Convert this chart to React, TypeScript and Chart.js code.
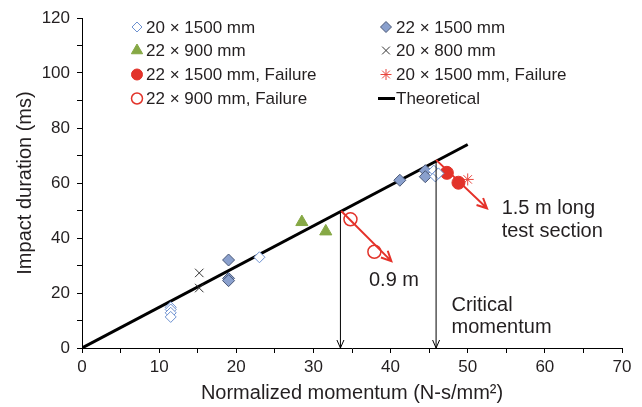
import React, { useEffect, useRef } from 'react';
import { Chart, registerables } from 'chart.js';
import { drawPoint } from 'chart.js/helpers';

Chart.register(...registerables);

const FONT = '"Liberation Sans", Arial, Helvetica, sans-serif';
const INK = '#231f20';

// Normalized momentum (N-s/mm²) and impact duration (ms) per specimen group
const s20x1500X = [11.5, 11.5, 11.5, 11.5, 23.0, 45.6, 45.8, 46.2];
const s20x1500Y = [14.8, 14.0, 12.8, 11.3, 33.0, 64.5, 62.4, 63.5];

const s22x1500X = [19.0, 19.0, 19.0, 41.2, 44.5, 44.5];
const s22x1500Y = [32.0, 25.3, 24.5, 61.0, 64.5, 62.3];

const s22x900X = [28.5, 31.6];
const s22x900Y = [45.8, 42.4];

const s20x800X = [15.2, 15.2];
const s20x800Y = [27.3, 21.8];

const f22x1500X = [47.3, 48.8];
const f22x1500Y = [63.7, 60.1];

const f20x1500X = [50.0];
const f20x1500Y = [61.3];

const f22x900X = [34.8, 37.9];
const f22x900Y = [46.8, 35.0];

// Theoretical relation (straight line through the origin)
const theoryX = [0, 50];
const theoryY = [0, 74];

// Critical momentum drop lines (from theoretical line to the axis)
const criticalX = [33.5, 45.9];
const criticalTopY = [49.6, 67.9];

// Failure trend arrows
const failFromX = [33.6, 45.9];
const failFromY = [49.8, 68.4];
const failToX = [40.1, 52.5];
const failToY = [31.6, 50.8];

// Notes placed in data coordinates (left edge, vertical centre)
const noteText = ['0.9 m', '1.5 m long', 'test section', 'Critical', 'momentum'];
const noteX = [37.2, 54.4, 54.4, 47.9, 47.9];
const noteY = [24.7, 50.9, 42.2, 15.6, 7.3];

// Axis ticks
const xTickMin = 0, xTickMax = 70, xTickStep = 5, xLabelEvery = 10;
const yTickMin = 0, yTickMax = 120, yTickStep = 10, yLabelEvery = 20;

const pts = (xs: number[], ys: number[]) => xs.map((x, i) => ({ x, y: ys[i] }));

const annotations = {
  id: 'annotations',
  afterDatasetsDraw(chart: any) {
    const { ctx, scales } = chart;
    const xs = scales.x, ys = scales.y;
    ctx.save();
    // black drop lines with small open arrowheads
    ctx.strokeStyle = '#000';
    ctx.lineWidth = 1;
    criticalX.forEach((v, i) => {
      const px = xs.getPixelForValue(v);
      const top = ys.getPixelForValue(criticalTopY[i]);
      const bot = ys.getPixelForValue(0);
      ctx.beginPath();
      ctx.moveTo(px, top);
      ctx.lineTo(px, bot);
      ctx.moveTo(px - 3.5, bot - 8);
      ctx.lineTo(px, bot);
      ctx.lineTo(px + 3.5, bot - 8);
      ctx.stroke();
    });
    // red failure arrows
    ctx.strokeStyle = '#e5322a';
    ctx.lineWidth = 2;
    failFromX.forEach((v, i) => {
      const x0 = xs.getPixelForValue(v), y0 = ys.getPixelForValue(failFromY[i]);
      const x1 = xs.getPixelForValue(failToX[i]), y1 = ys.getPixelForValue(failToY[i]);
      const a = Math.atan2(y1 - y0, x1 - x0);
      const h = 11, w = 0.45;
      ctx.beginPath();
      ctx.moveTo(x0, y0);
      ctx.lineTo(x1, y1);
      ctx.moveTo(x1 - h * Math.cos(a - w), y1 - h * Math.sin(a - w));
      ctx.lineTo(x1, y1);
      ctx.lineTo(x1 - h * Math.cos(a + w), y1 - h * Math.sin(a + w));
      ctx.stroke();
    });
    // notes
    ctx.fillStyle = INK;
    ctx.font = `20px ${FONT}`;
    ctx.textAlign = 'left';
    ctx.textBaseline = 'middle';
    noteText.forEach((t, i) => {
      ctx.fillText(t, xs.getPixelForValue(noteX[i]), ys.getPixelForValue(noteY[i]));
    });
    ctx.restore();
  },
};

const boxLegend = {
  id: 'boxLegend',
  afterDraw(chart: any) {
    const { ctx } = chart;
    const sets = chart.data.datasets;
    const colMarker = [137, 386];
    const colText = [146, 396];
    const rowY = [27, 50.5, 74.5, 98.5];
    ctx.save();
    ctx.font = `17px ${FONT}`;
    ctx.textBaseline = 'middle';
    ctx.textAlign = 'left';
    sets.forEach((ds: any, i: number) => {
      const col = i % 2;
      const row = Math.floor(i / 2);
      const y = rowY[row];
      const mx = colMarker[col];
      if (ds.showLine) {
        ctx.strokeStyle = ds.borderColor;
        ctx.lineWidth = 3;
        ctx.beginPath();
        ctx.moveTo(mx - 8, y);
        ctx.lineTo(mx + 9, y);
        ctx.stroke();
      } else {
        ctx.fillStyle = ds.backgroundColor;
        ctx.strokeStyle = ds.borderColor;
        ctx.lineWidth = ds.borderWidth;
        drawPoint(ctx, {
          pointStyle: ds.pointStyle,
          radius: ds.legendRadius,
          rotation: 0,
          borderWidth: ds.borderWidth,
        }, mx, y);
      }
      ctx.fillStyle = INK;
      ctx.fillText(ds.label, colText[col], y + 1);
    });
    ctx.restore();
  },
};

export default function App() {
  const ref = useRef<HTMLCanvasElement>(null);

  useEffect(() => {
    if (!ref.current) return;
    const chart = new Chart(ref.current, {
      type: 'scatter',
      data: {
        datasets: [
          {
            label: '20 × 1500 mm', data: pts(s20x1500X, s20x1500Y),
            pointStyle: 'rectRot', pointRadius: 5.5, backgroundColor: '#ffffff',
            borderColor: '#6d91d0', borderWidth: 1, legendRadius: 5,
          } as any,
          {
            label: '22 × 1500 mm', data: pts(s22x1500X, s22x1500Y),
            pointStyle: 'rectRot', pointRadius: 6, backgroundColor: '#8aa0cd',
            borderColor: '#4a5877', borderWidth: 1, legendRadius: 5.5,
          },
          {
            label: '22 × 900 mm', data: pts(s22x900X, s22x900Y),
            pointStyle: 'triangle', pointRadius: 7, backgroundColor: '#86a845',
            borderColor: '#86a845', borderWidth: 1, legendRadius: 6.5,
          },
          {
            label: '20 × 800 mm', data: pts(s20x800X, s20x800Y),
            pointStyle: 'crossRot', pointRadius: 6, backgroundColor: '#333333',
            borderColor: '#333333', borderWidth: 1, legendRadius: 5.5,
          },
          {
            label: '22 × 1500 mm, Failure', data: pts(f22x1500X, f22x1500Y),
            pointStyle: 'circle', pointRadius: 6.5, backgroundColor: '#e2332a',
            borderColor: '#e2332a', borderWidth: 1, legendRadius: 5.5,
          },
          {
            label: '20 × 1500 mm, Failure', data: pts(f20x1500X, f20x1500Y),
            pointStyle: 'star', pointRadius: 6, backgroundColor: '#e8453c',
            borderColor: '#e8453c', borderWidth: 1, legendRadius: 5.5,
          },
          {
            label: '22 × 900 mm, Failure', data: pts(f22x900X, f22x900Y),
            pointStyle: 'circle', pointRadius: 6.5, backgroundColor: 'rgba(255,255,255,0)',
            borderColor: '#e2332a', borderWidth: 1.5, legendRadius: 5.5,
          },
          {
            label: 'Theoretical', data: pts(theoryX, theoryY),
            showLine: true, pointRadius: 0, borderColor: '#000000',
            backgroundColor: '#000000', borderWidth: 3,
          },
        ] as any,
      },
      options: {
        responsive: false,
        animation: false,
        events: [],
        layout: { padding: { top: 18, right: 20, left: 0, bottom: 0 } },
        plugins: { legend: { display: false }, tooltip: { enabled: false } },
        scales: {
          x: {
            type: 'linear', min: xTickMin, max: xTickMax,
            afterFit: (s: any) => { s.height = 59; },
            ticks: {
              stepSize: xTickStep, color: INK, padding: 4,
              font: { family: FONT, size: 17 },
              callback: (v: any) => (v % xLabelEvery === 0 ? String(v) : ''),
            },
            grid: { drawOnChartArea: false, drawTicks: true, tickLength: 5, color: '#000' },
            border: { display: true, color: '#000', width: 1 },
            title: {
              display: true, text: 'Normalized momentum (N-s/mm²)', color: INK,
              font: { family: FONT, size: 20 }, padding: { top: 4, bottom: 2 },
            },
          },
          y: {
            type: 'linear', min: yTickMin, max: yTickMax,
            afterFit: (s: any) => { s.width = 82; },
            ticks: {
              stepSize: yTickStep, color: INK, padding: 7,
              font: { family: FONT, size: 17 },
              callback: (v: any) => (v % yLabelEvery === 0 ? String(v) : ''),
            },
            grid: { drawOnChartArea: false, drawTicks: true, tickLength: 5, color: '#000' },
            border: { display: true, color: '#000', width: 1 },
            title: {
              display: true, text: 'Impact duration (ms)', color: INK,
              font: { family: FONT, size: 20 }, padding: { top: 13, bottom: 4 },
            },
          },
        },
      } as any,
      plugins: [annotations, boxLegend],
    });
    return () => chart.destroy();
  }, []);

  return (
    <div style={{ position: 'absolute', left: 0, top: 0, width: 642, height: 407, background: '#fff' }}>
      <canvas ref={ref} width={642} height={407} />
    </div>
  );
}
